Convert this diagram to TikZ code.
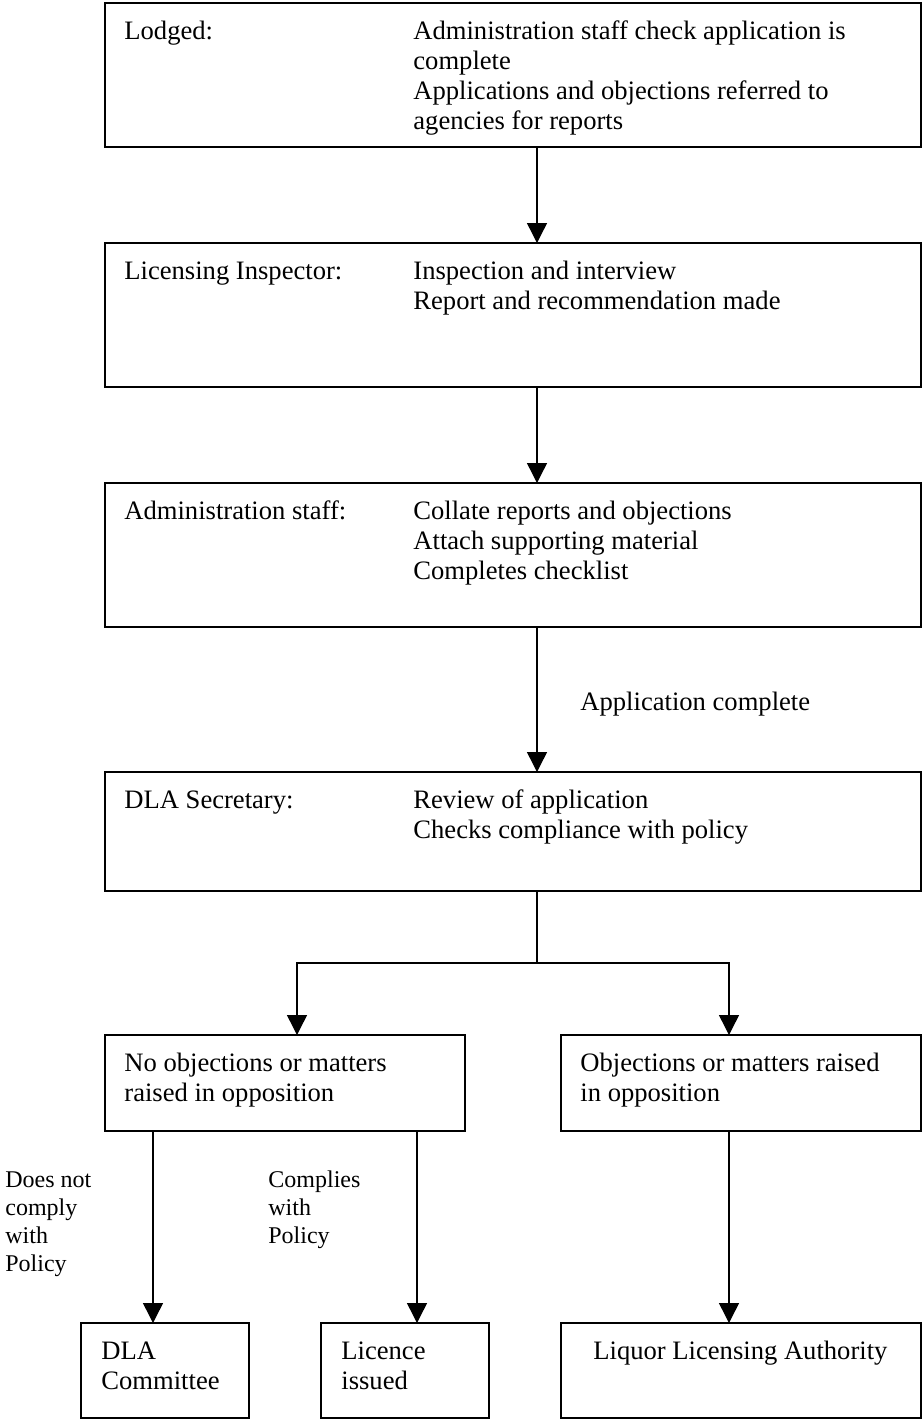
\documentclass[tikz,border=0pt]{standalone}
\usepackage{fontspec}
\setmainfont{Liberation Serif}
\usepackage{tikz}
\usetikzlibrary{arrows.meta}
\newcommand{\stacked}[1]{\begin{tabular}[t]{@{}l@{}}#1\end{tabular}}

\begin{document}
\begin{tikzpicture}[
        x=0.5pt,
        y=-0.5pt,
        font=\fontsize{13.3}{15}\selectfont,
        block/.style={
            rectangle,
            draw,
            line width=0.9pt,
            anchor=north west,
            inner sep=0pt,
            outer sep=0pt
        },
        txt/.style={
            anchor=base west,
            inner sep=0pt
        },
        small/.style={
            txt,
            font=\fontsize{12}{14}\selectfont
        },
        link/.style={
            draw,
            line width=0.7pt
        },
        line/.style={
            link,
            -{Triangle[length=10pt,width=10pt]}
        },
      ]
        \useasboundingbox (0,0) rectangle (923,1420);
        % stages
        \node [block,minimum width=408pt,minimum height=72pt] (lodged) at (105,3) {};
        \node [block,minimum width=408pt,minimum height=72pt] (inspector) at (105,243) {};
        \node [block,minimum width=408pt,minimum height=72pt] (admin-staff) at (105,483) {};
        \node [block,minimum width=408pt,minimum height=59.5pt] (secretary) at (105,772) {};
        \node [block,minimum width=180pt,minimum height=48pt] (no-objections) at (105,1035) {};
        \node [block,minimum width=180pt,minimum height=48pt] (objections) at (561,1035) {};
        \node [block,minimum width=84pt,minimum height=47.5pt] (committee) at (81,1323) {};
        \node [block,minimum width=84pt,minimum height=47.5pt] (licence) at (321,1323) {};
        \node [block,minimum width=180pt,minimum height=47.5pt] (authority) at (561,1323) {};
        % texts
        \node [txt] (lodged-role) at (124,39) {Lodged:};
        \node [txt] (lodged-tasks) at (413,39) {\stacked{Administration staff check application is\\complete\\Applications and objections referred to\\agencies for reports}};
        \node [txt] (inspector-role) at (124,279) {Licensing Inspector:};
        \node [txt] (inspector-tasks) at (413,279) {\stacked{Inspection and interview\\Report and recommendation made}};
        \node [txt] (admin-staff-role) at (124,519) {Administration staff:};
        \node [txt] (admin-staff-tasks) at (413,519) {\stacked{Collate reports and objections\\Attach supporting material\\Completes checklist}};
        \node [txt] (secretary-role) at (124,808) {DLA Secretary:};
        \node [txt] (secretary-tasks) at (413,808) {\stacked{Review of application\\Checks compliance with policy}};
        \node [txt] (no-objections-text) at (124,1071) {\stacked{No objections or matters\\raised in opposition}};
        \node [txt] (objections-text) at (580,1071) {\stacked{Objections or matters raised\\in opposition}};
        \node [txt] (committee-text) at (101,1359) {\stacked{DLA\\Committee}};
        \node [txt] (licence-text) at (341,1359) {\stacked{Licence\\issued}};
        \node [txt] (authority-text) at (593,1359) {Liquor Licensing Authority};
        \node [txt] (complete-label) at (580,710) {Application complete};
        \node [small] (fails-label) at (5,1187) {\stacked{Does not\\comply\\with\\Policy}};
        \node [small] (complies-label) at (268,1187) {\stacked{Complies\\with\\Policy}};
        % connectors
        \coordinate (spine) at (537,0);
        \coordinate (fork) at (537,963);
        \coordinate (left-drop) at (297,0);
        \coordinate (right-drop) at (729,0);
        \coordinate (fails-drop) at (153,0);
        \coordinate (complies-drop) at (417,0);
        \path [line] (spine |- lodged.south) -- (spine |- inspector.north);
        \path [line] (spine |- inspector.south) -- (spine |- admin-staff.north);
        \path [line] (spine |- admin-staff.south) -- (spine |- secretary.north);
        \path [link] (spine |- secretary.south) -- (fork);
        \path [line] (fork) -| (left-drop |- no-objections.north);
        \path [line] (fork) -| (right-drop |- objections.north);
        \path [line] (fails-drop |- no-objections.south) -- (fails-drop |- committee.north);
        \path [line] (complies-drop |- no-objections.south) -- (complies-drop |- licence.north);
        \path [line] (right-drop |- objections.south) -- (right-drop |- authority.north);
      \end{tikzpicture}
\end{document}
